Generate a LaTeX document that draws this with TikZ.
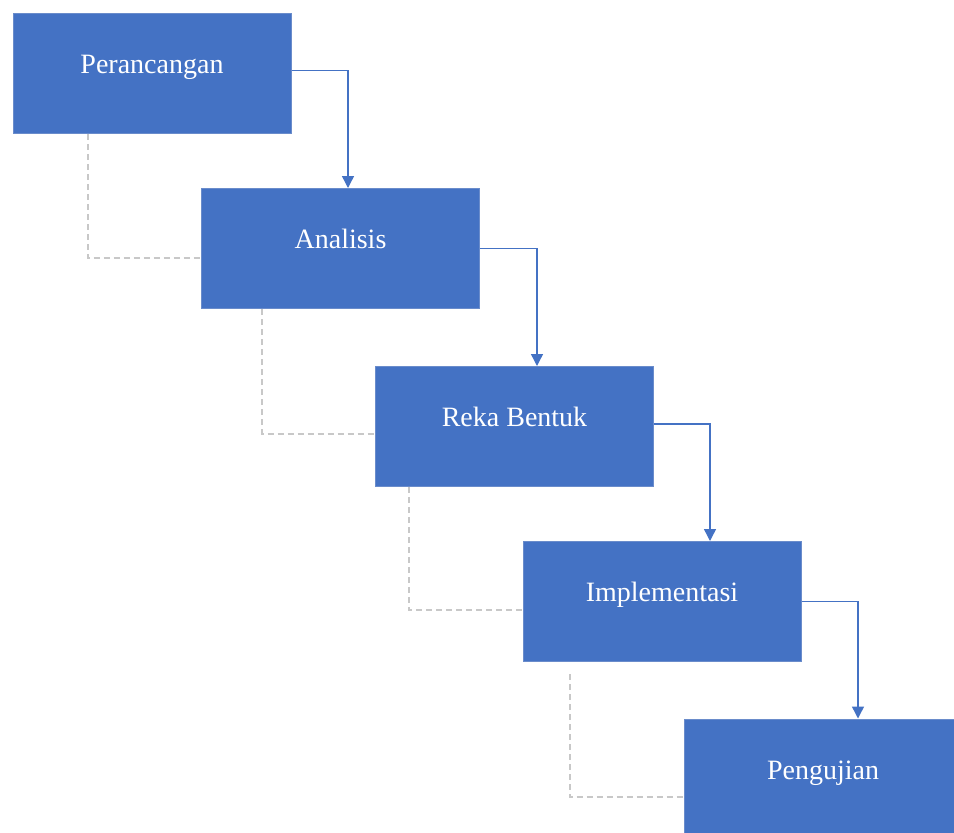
\documentclass[tikz,border=0pt]{standalone}
\usepackage{fontspec}
\setmainfont{Liberation Serif}
\usepackage{tikz}
\usetikzlibrary{arrows.meta,calc}
\definecolor{boxblue}{HTML}{4472C4}
\definecolor{boxedge}{HTML}{6A8CCB}
\definecolor{dashgrey}{HTML}{C8C8C8}

\begin{document}
\begin{tikzpicture}[x=0.5pt,y=-0.5pt,
  phase/.style={rectangle,fill=boxblue,draw=boxedge,line width=0.5pt,inner sep=0pt,
    minimum width=139pt,minimum height=60pt,text=white,
    font=\fontsize{14}{16}\selectfont,text height=2ex,text depth=2ex},
  flow/.style={draw=boxblue,line width=0.7pt,-{Triangle[width=6pt,length=6pt]}},
  back/.style={draw=dashgrey,line width=1pt,dash pattern=on 3pt off 2pt}]
\useasboundingbox (0,0) rectangle (954,832);

% phases
\node[phase] (per) at (152,73.5) {Perancangan};
\node[phase] (ana) at (340.5,248.5) {Analisis};
\node[phase] (reka) at (514.5,426.5) {Reka Bentuk};
\node[phase] (imp) at (662,601.5) {Implementasi};
\node[phase] (uji) at (823,779) {Pengujian};

% forward flow
\draw[flow] ($(per.east)+(0,-3)$) -| ($(ana.north)+(7.5,0)$);
\draw[flow] (ana.east) -| ($(reka.north)+(22.5,0)$);
\draw[flow] ($(reka.east)+(0,-2.5)$) -| ($(imp.north)+(48,0)$);
\draw[flow] (imp.east) -| ($(uji.north)+(35,0)$);

% feedback (dashed)
\draw[back] ($(per.south west)+(75,0)$) |- ($(ana.west)+(0,9.5)$);
\draw[back] ($(ana.south west)+(61,0)$) |- ($(reka.west)+(0,7)$);
\draw[back] ($(reka.south west)+(34,0)$) |- ($(imp.west)+(0,8.5)$);
\draw[back] ($(imp.south west)+(47,12)$) |- ($(uji.west)+(0,18)$);
\end{tikzpicture}
\end{document}
